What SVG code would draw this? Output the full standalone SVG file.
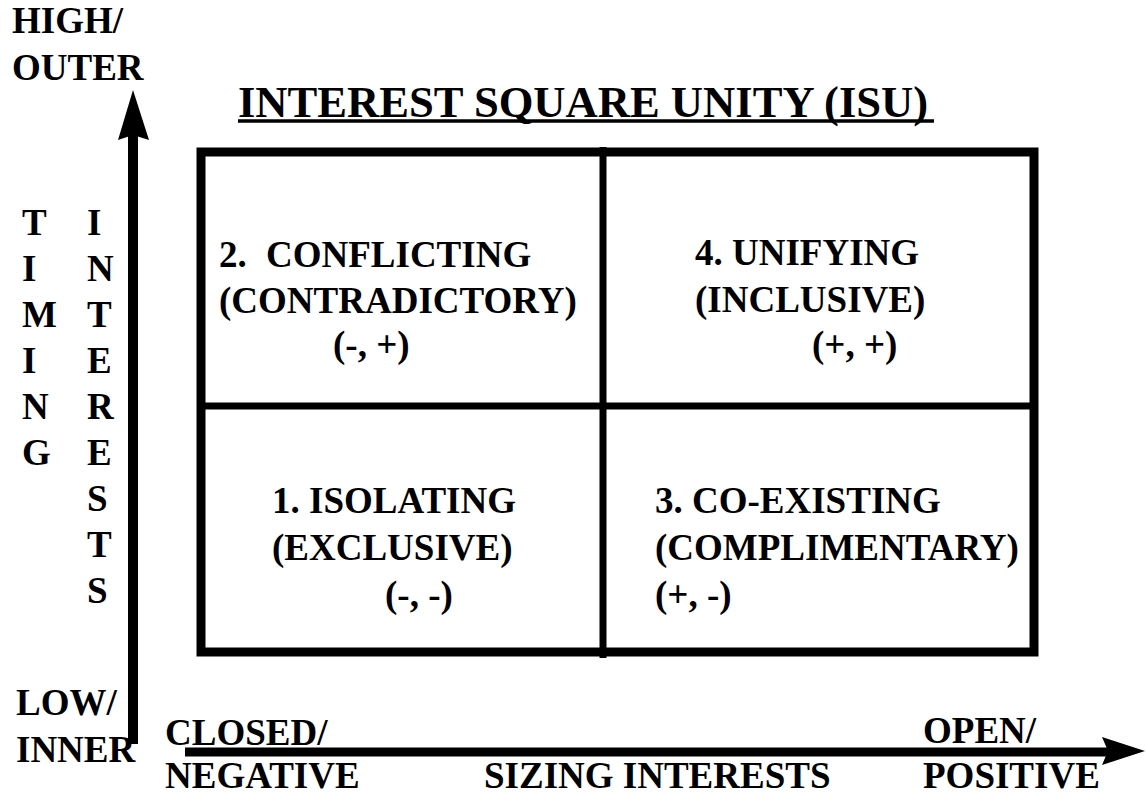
<svg xmlns="http://www.w3.org/2000/svg" width="1146" height="797" viewBox="0 0 1146 797">
<rect width="1146" height="797" fill="#fff"/>
<g id="title">
<text x="238" y="117" font-family="Liberation Serif" font-size="44.6" font-weight="bold">INTEREST SQUARE UNITY (ISU)</text>
<line x1="238" y1="121" x2="934" y2="121" stroke="#000" stroke-width="3.5"/>
</g>
<g id="connectors">
<line x1="133" y1="132" x2="133" y2="744" stroke="#000" stroke-width="10"/>
<polygon points="133,90 149,140 133,135 118,140" fill="#000"/>
<line x1="185" y1="752" x2="1110" y2="752" stroke="#000" stroke-width="9"/>
<polygon points="1145,751 1102,737 1108,751 1102,765" fill="#000"/>
</g>
<g id="grid">
<rect x="201" y="152" width="833" height="500" fill="none" stroke="#000" stroke-width="9"/>
<line x1="603" y1="147" x2="603" y2="658" stroke="#000" stroke-width="7"/>
<line x1="201" y1="406" x2="1034" y2="406" stroke="#000" stroke-width="7"/>
</g>
<g id="q2">
<text x="219" y="267" font-family="Liberation Serif" font-size="37" font-weight="bold">2.<tspan x="266">CONFLICTING</tspan></text>
<text x="219" y="313" font-family="Liberation Serif" font-size="37" font-weight="bold">(CONTRADICTORY)</text>
<text x="333" y="357" font-family="Liberation Serif" font-size="37" font-weight="bold">(-, +)</text>
</g>
<g id="q4">
<text x="695" y="265" font-family="Liberation Serif" font-size="37" font-weight="bold">4. UNIFYING</text>
<text x="695" y="312" font-family="Liberation Serif" font-size="37" font-weight="bold">(INCLUSIVE)</text>
<text x="812" y="357" font-family="Liberation Serif" font-size="37" font-weight="bold">(+, +)</text>
</g>
<g id="q1">
<text x="272" y="513" font-family="Liberation Serif" font-size="37" font-weight="bold">1. ISOLATING</text>
<text x="272" y="560" font-family="Liberation Serif" font-size="37" font-weight="bold">(EXCLUSIVE)</text>
<text x="385" y="607" font-family="Liberation Serif" font-size="37" font-weight="bold">(-, -)</text>
</g>
<g id="q3">
<text x="655" y="513" font-family="Liberation Serif" font-size="37" font-weight="bold">3. CO-EXISTING</text>
<text x="655" y="560" font-family="Liberation Serif" font-size="37" font-weight="bold">(COMPLIMENTARY)</text>
<text x="655" y="607" font-family="Liberation Serif" font-size="37" font-weight="bold">(+, -)</text>
</g>
<g id="y-axis-labels">
<text x="12" y="33" font-family="Liberation Serif" font-size="37" font-weight="bold">HIGH/</text>
<text x="12" y="80" font-family="Liberation Serif" font-size="37" font-weight="bold">OUTER</text>
<text x="16" y="715" font-family="Liberation Serif" font-size="37" font-weight="bold">LOW/</text>
<text x="16" y="762" font-family="Liberation Serif" font-size="37" font-weight="bold">INNER</text>
<text x="22" y="235" font-family="Liberation Serif" font-size="37" font-weight="bold">T</text>
<text x="22" y="281" font-family="Liberation Serif" font-size="37" font-weight="bold">I</text>
<text x="22" y="327" font-family="Liberation Serif" font-size="37" font-weight="bold">M</text>
<text x="22" y="373" font-family="Liberation Serif" font-size="37" font-weight="bold">I</text>
<text x="22" y="419" font-family="Liberation Serif" font-size="37" font-weight="bold">N</text>
<text x="22" y="465" font-family="Liberation Serif" font-size="37" font-weight="bold">G</text>
<text x="87" y="235" font-family="Liberation Serif" font-size="37" font-weight="bold">I</text>
<text x="87" y="281" font-family="Liberation Serif" font-size="37" font-weight="bold">N</text>
<text x="87" y="327" font-family="Liberation Serif" font-size="37" font-weight="bold">T</text>
<text x="87" y="373" font-family="Liberation Serif" font-size="37" font-weight="bold">E</text>
<text x="87" y="419" font-family="Liberation Serif" font-size="37" font-weight="bold">R</text>
<text x="87" y="465" font-family="Liberation Serif" font-size="37" font-weight="bold">E</text>
<text x="87" y="511" font-family="Liberation Serif" font-size="37" font-weight="bold">S</text>
<text x="87" y="557" font-family="Liberation Serif" font-size="37" font-weight="bold">T</text>
<text x="87" y="603" font-family="Liberation Serif" font-size="37" font-weight="bold">S</text>
</g>
<g id="x-axis-labels">
<text x="165" y="745" font-family="Liberation Serif" font-size="37" font-weight="bold">CLOSED/</text>
<text x="165" y="788" font-family="Liberation Serif" font-size="37" font-weight="bold">NEGATIVE</text>
<text x="484" y="788" font-family="Liberation Serif" font-size="37" font-weight="bold">SIZING INTERESTS</text>
<text x="923" y="743" font-family="Liberation Serif" font-size="37" font-weight="bold">OPEN/</text>
<text x="923" y="788" font-family="Liberation Serif" font-size="37" font-weight="bold">POSITIVE</text>
</g>
</svg>
